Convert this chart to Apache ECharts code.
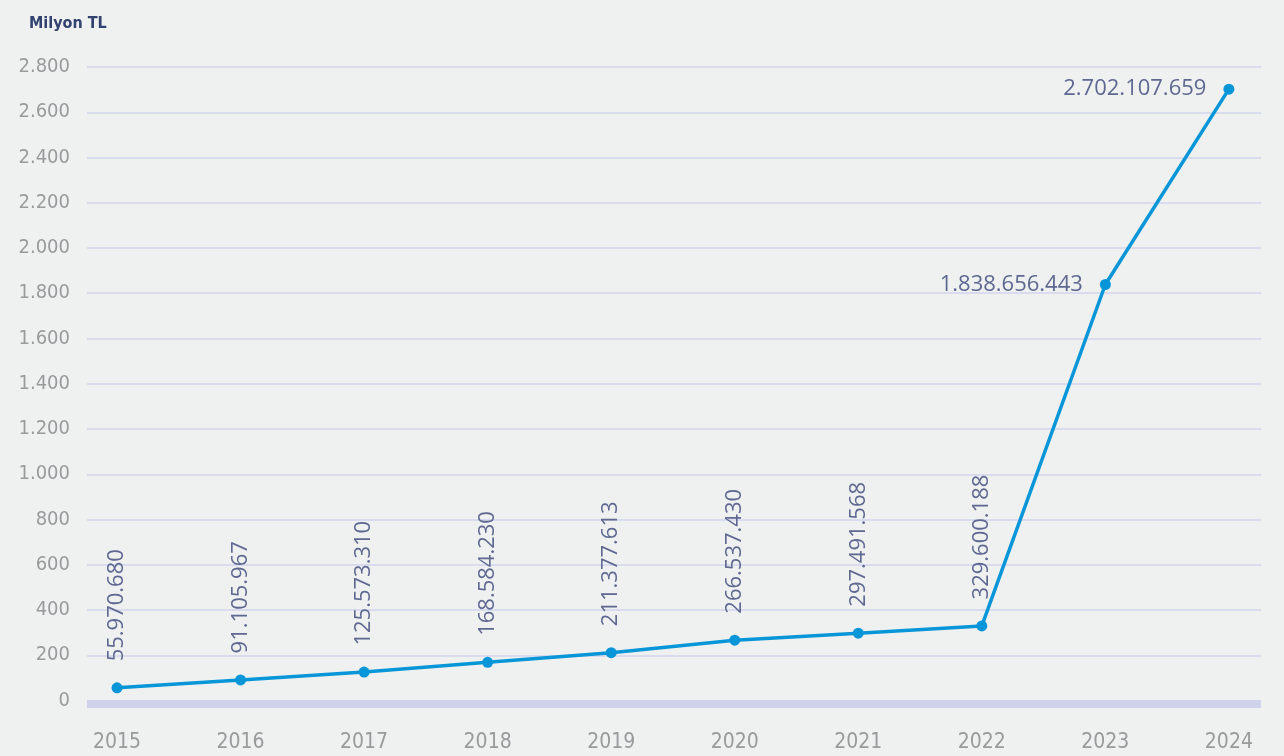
<!DOCTYPE html>
<html><head><meta charset="utf-8">
<script src="https://cdn.jsdelivr.net/npm/echarts@6/dist/echarts.min.js"></script>
<style>html,body{margin:0;padding:0;background:#eff1f1;}#c{width:1284px;height:756px;}</style>
</head><body><div id="c"></div>
<script>
const years = ['2015','2016','2017','2018','2019','2020','2021','2022','2023','2024'];
// values in thousand TL (labels), axis in million TL
const values = [55970680, 91105967, 125573310, 168584230, 211377613, 266537430, 297491568, 329600188, 1838656443, 2702107659];
const yTicks = [0,200,400,600,800,1000,1200,1400,1600,1800,2000,2200,2400,2600,2800];
const unitLabel = 'Milyon TL';

function fmt(n){ return String(n).replace(/\B(?=(\d{3})+(?!\d))/g,'.'); }
const condensed = 'DejaVu Sans Condensed, Liberation Sans Narrow, sans-serif';

const chart = echarts.init(document.getElementById('c'));
const data = values.map((v,i)=>{
  const item = {value:[i, v/1e6]};
  if (i >= 8) {
    item.label = {rotate:0, position:'left', distance:17, align:'right', verticalAlign:'middle'};
  }
  return item;
});
chart.setOption({
  backgroundColor:'#eff1f1',
  animation:false,
  title:{text:unitLabel, left:24, top:11, textStyle:{fontFamily:condensed, fontWeight:'bold', fontSize:16, color:'#33426f'}},
  grid:{left:87, right:23, top:67, bottom:55.5},
  xAxis:{type:'value', min:-0.243, max:9.26,
    axisLine:{show:true, onZero:false, lineStyle:{color:'#cfd2ea', width:8, cap:'butt'}},
    axisTick:{show:false}, splitLine:{show:false},
    offset:3,
    axisLabel:{customValues:years.map((y,i)=>i), formatter:v=>years[Math.round(v)], margin:29,
      fontFamily:condensed, fontSize:21, color:'#9a9a9c'}},
  yAxis:{type:'value', min:0, max:yTicks[yTicks.length-1], interval:200,
    axisLine:{show:false}, axisTick:{show:false},
    splitLine:{lineStyle:{color:'#d2d5ee', width:1.5}},
    axisLabel:{formatter:v=>fmt(v), margin:17,
      fontFamily:condensed, fontSize:20, color:'#9a9a9c'}},
  series:[{type:'line', data:data, symbol:'circle', symbolSize:11,
    lineStyle:{color:'#0896d8', width:3.5}, itemStyle:{color:'#0896d8'},
    label:{show:true, rotate:90, position:'top', distance:21, align:'left', verticalAlign:'middle',
      formatter:p=>fmt(values[p.dataIndex]),
      fontFamily:'Open Sans, sans-serif', fontSize:22, color:'#5f6891'}
  }]
});
</script></body></html>
